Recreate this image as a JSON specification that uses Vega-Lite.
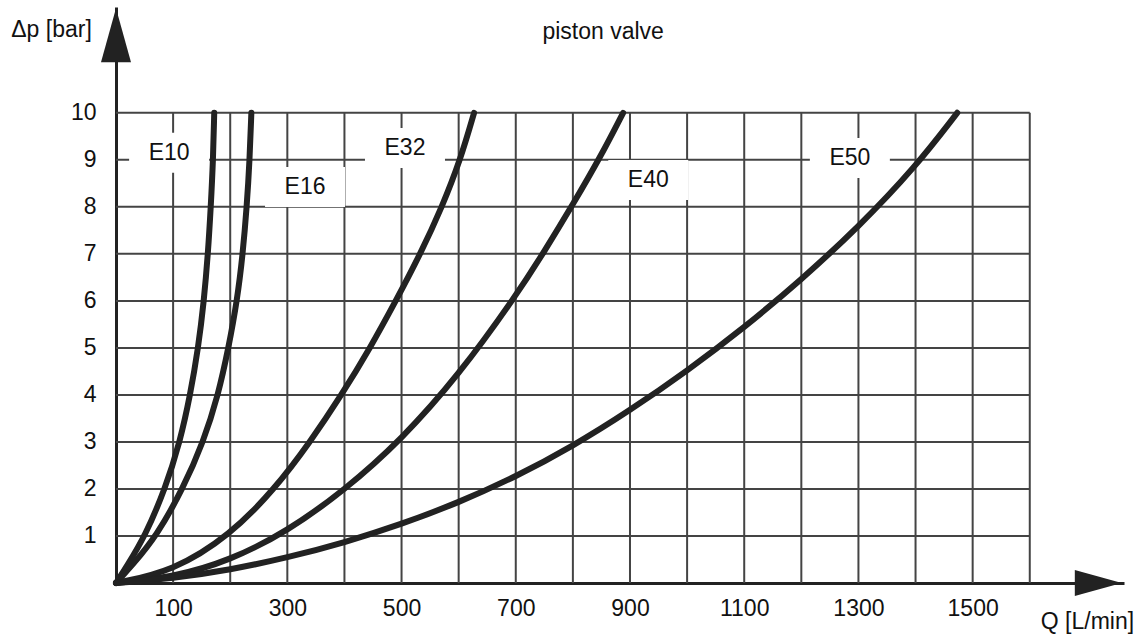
{
  "$schema": "https://vega.github.io/schema/vega-lite/v6.json",
  "width": 1008,
  "height": 576,
  "autosize": {"type": "none"},
  "padding": {"left": 116, "top": 7, "right": 16, "bottom": 51},
  "config": {
    "view": {"stroke": null},
    "font": "Liberation Sans",
    "axis": {
      "domainColor": "#222222",
      "domainWidth": 3,
      "ticks": false,
      "tickSize": 0,
      "grid": false,
      "labelColor": "#111111",
      "labelFont": "Liberation Sans",
      "labelFontSize": 23,
      "labelFlush": false,
      "labelOverlap": false,
      "titleFont": "Liberation Sans",
      "titleFontSize": 23,
      "titleFontWeight": "normal",
      "titleColor": "#111111"
    }
  },
  "datasets": {
    "curves": [
      {"series": "E10", "Q": 0, "dp": 0}, {"series": "E10", "Q": 20, "dp": 0.38}, {"series": "E10", "Q": 51, "dp": 1}, {"series": "E10", "Q": 86, "dp": 2}, {"series": "E10", "Q": 112, "dp": 3}, {"series": "E10", "Q": 130, "dp": 4}, {"series": "E10", "Q": 144, "dp": 5}, {"series": "E10", "Q": 154, "dp": 6}, {"series": "E10", "Q": 161, "dp": 7}, {"series": "E10", "Q": 166, "dp": 8}, {"series": "E10", "Q": 170, "dp": 9}, {"series": "E10", "Q": 172, "dp": 10},
      {"series": "E16", "Q": 0, "dp": 0}, {"series": "E16", "Q": 30, "dp": 0.4}, {"series": "E16", "Q": 71, "dp": 1}, {"series": "E16", "Q": 117, "dp": 2}, {"series": "E16", "Q": 153, "dp": 3}, {"series": "E16", "Q": 179, "dp": 4}, {"series": "E16", "Q": 197, "dp": 5}, {"series": "E16", "Q": 212, "dp": 6}, {"series": "E16", "Q": 222, "dp": 7}, {"series": "E16", "Q": 229, "dp": 8}, {"series": "E16", "Q": 234, "dp": 9}, {"series": "E16", "Q": 237, "dp": 10},
      {"series": "E32", "Q": 0, "dp": 0}, {"series": "E32", "Q": 100, "dp": 0.25}, {"series": "E32", "Q": 200, "dp": 1.02}, {"series": "E32", "Q": 278, "dp": 2}, {"series": "E32", "Q": 340, "dp": 3}, {"series": "E32", "Q": 395, "dp": 4}, {"series": "E32", "Q": 445, "dp": 5}, {"series": "E32", "Q": 490, "dp": 6}, {"series": "E32", "Q": 533, "dp": 7}, {"series": "E32", "Q": 571, "dp": 8}, {"series": "E32", "Q": 603, "dp": 9}, {"series": "E32", "Q": 627, "dp": 10},
      {"series": "E40", "Q": 0, "dp": 0}, {"series": "E40", "Q": 100, "dp": 0.12}, {"series": "E40", "Q": 200, "dp": 0.48}, {"series": "E40", "Q": 300, "dp": 1.1}, {"series": "E40", "Q": 400, "dp": 1.97}, {"series": "E40", "Q": 500, "dp": 3.05}, {"series": "E40", "Q": 600, "dp": 4.42}, {"series": "E40", "Q": 700, "dp": 6.1}, {"series": "E40", "Q": 750, "dp": 7.05}, {"series": "E40", "Q": 800, "dp": 8.05}, {"series": "E40", "Q": 850, "dp": 9.1}, {"series": "E40", "Q": 888, "dp": 10},
      {"series": "E50", "Q": 0, "dp": 0}, {"series": "E50", "Q": 100, "dp": 0.1}, {"series": "E50", "Q": 200, "dp": 0.28}, {"series": "E50", "Q": 300, "dp": 0.54}, {"series": "E50", "Q": 400, "dp": 0.86}, {"series": "E50", "Q": 500, "dp": 1.25}, {"series": "E50", "Q": 600, "dp": 1.71}, {"series": "E50", "Q": 700, "dp": 2.26}, {"series": "E50", "Q": 800, "dp": 2.91}, {"series": "E50", "Q": 900, "dp": 3.67}, {"series": "E50", "Q": 1000, "dp": 4.51}, {"series": "E50", "Q": 1100, "dp": 5.43}, {"series": "E50", "Q": 1200, "dp": 6.45}, {"series": "E50", "Q": 1300, "dp": 7.57}, {"series": "E50", "Q": 1400, "dp": 8.85}, {"series": "E50", "Q": 1473, "dp": 10}
    ],
    "gridQ": [
      {"Q": 100}, {"Q": 200}, {"Q": 300}, {"Q": 400}, {"Q": 500}, {"Q": 600}, {"Q": 700}, {"Q": 800}, {"Q": 900}, {"Q": 1000}, {"Q": 1100}, {"Q": 1200}, {"Q": 1300}, {"Q": 1400}, {"Q": 1500}, {"Q": 1600}
    ],
    "gridP": [
      {"dp": 1}, {"dp": 2}, {"dp": 3}, {"dp": 4}, {"dp": 5}, {"dp": 6}, {"dp": 7}, {"dp": 8}, {"dp": 9}, {"dp": 10}
    ],
    "labels": [
      {"label": "E10", "Q": 93, "dp": 9.15},
      {"label": "E16", "Q": 331, "dp": 8.42},
      {"label": "E32", "Q": 506, "dp": 9.25},
      {"label": "E40", "Q": 932, "dp": 8.57},
      {"label": "E50", "Q": 1285, "dp": 9.04}
    ]
  },
  "layer": [
    {
      "data": {"name": "gridQ"},
      "mark": {"type": "rule", "stroke": "#444444", "strokeWidth": 2},
      "encoding": {
        "x": {"field": "Q", "type": "quantitative"},
        "y": {"datum": 0, "type": "quantitative"},
        "y2": {"datum": 10}
      }
    },
    {
      "data": {"name": "gridP"},
      "mark": {"type": "rule", "stroke": "#444444", "strokeWidth": 2},
      "encoding": {
        "y": {"field": "dp", "type": "quantitative"},
        "x": {"datum": 0, "type": "quantitative"},
        "x2": {"datum": 1600}
      }
    },
    {
      "data": {"name": "labels"},
      "mark": {"type": "point", "shape": "M-1,-0.5H1V0.5H-1Z", "size": 6400, "filled": true, "fill": "white", "opacity": 1, "strokeWidth": 0},
      "encoding": {
        "x": {"field": "Q", "type": "quantitative"},
        "y": {"field": "dp", "type": "quantitative"}
      }
    },
    {
      "data": {"name": "curves"},
      "mark": {"type": "line", "interpolate": "basis", "stroke": "#222222", "strokeWidth": 6, "strokeCap": "round"},
      "encoding": {
        "x": {
          "field": "Q",
          "type": "quantitative",
          "scale": {"domain": [0, 1765], "nice": false, "zero": true},
          "axis": {
            "values": [100, 300, 500, 700, 900, 1100, 1300, 1500],
            "format": "d",
            "labelPadding": 14,
            "title": "Q [L/min]",
            "titleX": 971,
            "titleY": 38,
            "titleAlign": "center",
            "titleBaseline": "middle"
          }
        },
        "y": {
          "field": "dp",
          "type": "quantitative",
          "scale": {"domain": [0, 12.25], "nice": false, "zero": true},
          "axis": {
            "values": [1, 2, 3, 4, 5, 6, 7, 8, 9, 10],
            "format": "d",
            "labelPadding": 20,
            "title": "Δp [bar]",
            "titleAngle": 0,
            "titleX": -65,
            "titleY": 22,
            "titleAlign": "center",
            "titleBaseline": "middle"
          }
        },
        "detail": {"field": "series"}
      }
    },
    {
      "data": {"name": "labels"},
      "mark": {"type": "text", "fontSize": 23, "font": "Liberation Sans", "color": "#111111", "align": "center", "baseline": "middle"},
      "encoding": {
        "x": {"field": "Q", "type": "quantitative"},
        "y": {"field": "dp", "type": "quantitative"},
        "text": {"field": "label"}
      }
    },
    {
      "data": {"values": [{"name": "Q arrow"}]},
      "mark": {"type": "point", "shape": "M1,0L-1,-0.553L-1,0.553Z", "size": 2209, "filled": true, "fill": "#222222", "opacity": 1, "strokeWidth": 0},
      "encoding": {"x": {"datum": 1720, "type": "quantitative"}, "y": {"datum": 0, "type": "quantitative"}}
    },
    {
      "data": {"values": [{"name": "dp arrow"}]},
      "mark": {"type": "point", "shape": "M0,-1L0.556,1L-0.556,1Z", "size": 2916, "filled": true, "fill": "#222222", "opacity": 1, "strokeWidth": 0},
      "encoding": {"x": {"datum": 0, "type": "quantitative"}, "y": {"datum": 11.65, "type": "quantitative"}}
    },
    {
      "data": {"values": [{"name": "title"}]},
      "mark": {"type": "text", "fontSize": 23, "font": "Liberation Sans", "color": "#111111", "align": "center", "baseline": "middle"},
      "encoding": {"x": {"datum": 853, "type": "quantitative"}, "y": {"datum": 11.72, "type": "quantitative"}, "text": {"value": "piston valve"}}
    }
  ]
}
